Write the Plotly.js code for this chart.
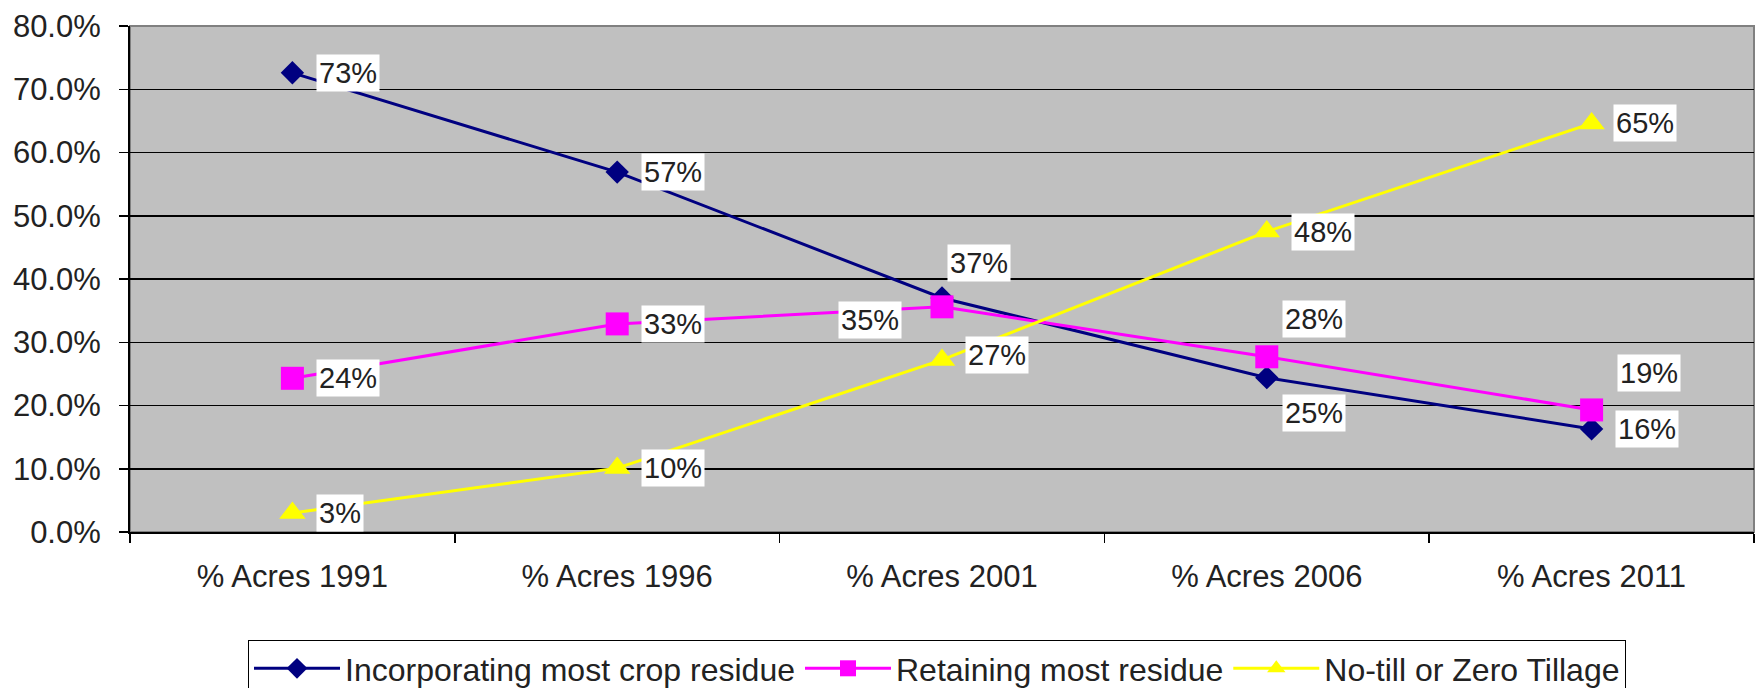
<!DOCTYPE html>
<html>
<head>
<meta charset="utf-8">
<script src="https://cdn.plot.ly/plotly-3.0.1.min.js"></script>
<style>
html,body{margin:0;padding:0;background:#fff;}
#chart{width:1755px;height:688px;}
</style>
</head>
<body>
<div id="chart"></div>
<script>
// ---- data ----
var categories = ['% Acres 1991', '% Acres 1996', '% Acres 2001', '% Acres 2006', '% Acres 2011'];
var seriesNames = ['Incorporating most crop residue', 'Retaining most residue', 'No-till or Zero Tillage'];
var incorporating = [72.6, 56.9, 37.0, 24.4, 16.3];
var retaining = [24.3, 32.9, 35.6, 27.7, 19.3];
var noTill = [3.0, 10.1, 27.2, 47.5, 64.6];
var incorporatingLabels = ['73%', '57%', '37%', '25%', '16%'];
var retainingLabels = ['24%', '33%', '35%', '28%', '19%'];
var noTillLabels = ['3%', '10%', '27%', '48%', '65%'];
var yTickVals = [0, 10, 20, 30, 40, 50, 60, 70, 80];
var yTickText = ['0.0%', '10.0%', '20.0%', '30.0%', '40.0%', '50.0%', '60.0%', '70.0%', '80.0%'];

// ---- label placement (pixel offsets from the point) ----
// [xanchor, xshift, yshift]
var incPlace = [['left',24,0],['left',24,0],['left',5,35],['left',15,-35],['left',23,0]];
var retPlace = [['left',24,0],['left',24,0],['right',-40,-13],['left',15,38],['left',25,37]];
var ntPlace  = [['left',24,0],['left',24,0],['left',23,5],['left',24,0],['left',21,0]];

var FONT = 'Liberation Sans, Arial, sans-serif';

var traces = [
  {x: categories, y: incorporating, name: seriesNames[0], type: 'scatter', mode: 'lines+markers',
   line: {color: '#000080', width: 3}, marker: {symbol: 'diamond', size: 18, color: '#000080'}},
  {x: categories, y: retaining, name: seriesNames[1], type: 'scatter', mode: 'lines+markers',
   line: {color: '#ff00ff', width: 3}, marker: {symbol: 'square', size: 23, color: '#ff00ff'}},
  {x: categories, y: noTill, name: seriesNames[2], type: 'scatter', mode: 'lines+markers',
   line: {color: '#ffff00', width: 3}, marker: {symbol: 'triangle-up', size: 23, color: '#ffff00'}}
];

var annotations = [];
function addLabels(vals, labels, place) {
  for (var i = 0; i < vals.length; i++) {
    annotations.push({
      x: categories[i], y: vals[i], xref: 'x', yref: 'y', text: labels[i], showarrow: false,
      xanchor: place[i][0], yanchor: 'middle', xshift: place[i][1], yshift: place[i][2],
      bgcolor: '#ffffff', borderpad: 2,
      font: {family: FONT, size: 29, color: '#222222'}
    });
  }
}
addLabels(incorporating, incorporatingLabels, incPlace);
addLabels(retaining, retainingLabels, retPlace);
addLabels(noTill, noTillLabels, ntPlace);

var layout = {
  width: 1755, height: 688,
  margin: {l: 130, r: 1, t: 26, b: 156, autoexpand: false},
  paper_bgcolor: '#ffffff',
  plot_bgcolor: '#c0c0c0',
  font: {family: FONT, size: 31, color: '#222222'},
  showlegend: true,
  legend: {
    orientation: 'h', xref: 'container', yref: 'container',
    x: 248 / 1755, xanchor: 'left', y: 1 - 640 / 688, yanchor: 'top',
    bgcolor: '#ffffff', bordercolor: '#000000', borderwidth: 1,
    font: {family: FONT, size: 32, color: '#222222'},
    itemwidth: 86, traceorder: 'normal'
  },
  xaxis: {
    type: 'category', range: [-0.5, 4.5], tickson: 'boundaries', ticks: 'outside', ticklen: 9, tickcolor: '#000',
    tickwidth: 1.5, showline: true, linecolor: '#000', linewidth: 2, showgrid: false,
    zeroline: false, ticklabelstandoff: 16, fixedrange: true, automargin: false,
    tickfont: {family: FONT, size: 31, color: '#222222'}
  },
  yaxis: {
    range: [0, 80], tickvals: yTickVals, ticktext: yTickText,
    ticks: 'outside', ticklen: 9, tickcolor: '#000', tickwidth: 1.5,
    showline: true, linecolor: '#000', linewidth: 2,
    showgrid: true, gridcolor: '#000000', gridwidth: 1.5, zeroline: false,
    ticklabelstandoff: 12, fixedrange: true, automargin: false,
    tickfont: {family: FONT, size: 31, color: '#222222'}
  },
  shapes: [
    {type: 'rect', xref: 'paper', yref: 'paper', x0: 0, x1: 1, y0: 0, y1: 1,
     line: {color: '#808080', width: 2}, layer: 'below'}
  ],
  annotations: annotations
};

Plotly.newPlot('chart', traces, layout, {displayModeBar: false, staticPlot: true});
</script>
</body>
</html>
